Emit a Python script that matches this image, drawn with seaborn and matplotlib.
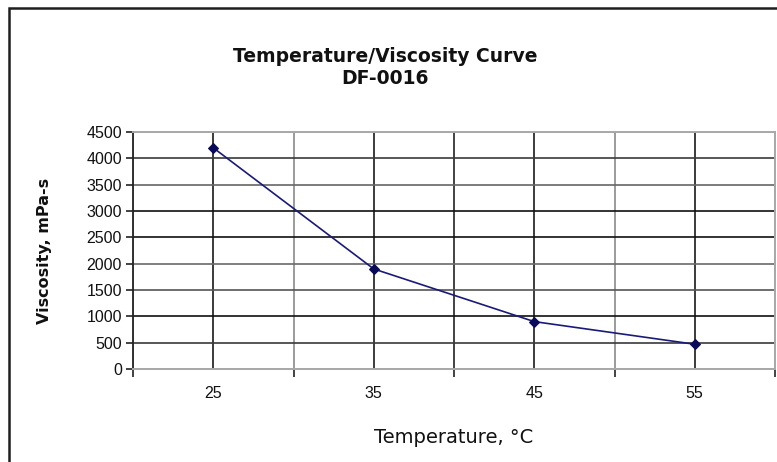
import numpy as np
import pandas as pd
import matplotlib
matplotlib.use("Agg")
import matplotlib.pyplot as plt
import seaborn as sns
from matplotlib.patches import Rectangle

# --------------------------------------------------
# Data
# --------------------------------------------------

temperature = [25, 35, 45, 55]
viscosity = [4200, 1900, 900, 470]

title_lines = ["Temperature/Viscosity Curve", "DF-0016"]
x_label = "Temperature, \u00b0C"
y_label = "Viscosity, mPa-s"

y_ticks = list(range(0, 5000, 500))
x_major = [20, 30, 40, 50, 60]
x_labeled = [25, 35, 45, 55]

df = pd.DataFrame({"Temperature": temperature, "Viscosity": viscosity})

# --------------------------------------------------
# Style
# --------------------------------------------------

sns.set_style("white")
plt.rcParams["font.family"] = ["Liberation Sans", "DejaVu Sans"]
plt.rcParams["text.color"] = "#111111"
plt.rcParams["axes.labelcolor"] = "#111111"
plt.rcParams["xtick.color"] = "#111111"
plt.rcParams["ytick.color"] = "#111111"

fig = plt.figure(figsize=(7.77, 4.62), dpi=100)
ax = fig.add_axes([133 / 777, 1 - 369 / 462, 642 / 777, 237 / 462])

# outer chart border
fig.patches.append(Rectangle((8.5 / 777, -0.1), 1.2, 1.1 - 8.5 / 462,
                             transform=fig.transFigure, fill=False,
                             edgecolor="#1e1e1e", linewidth=1.8))

sns.lineplot(data=df, x="Temperature", y="Viscosity", ax=ax,
             color="#1a1a7a", linewidth=1.2, marker="D", markersize=5,
             markeredgecolor="#0a0a5a", markerfacecolor="#0a0a5a", zorder=5)

ax.set_xlim(20, 60)
ax.set_ylim(0, 4500)

ax.set_yticks(y_ticks)
ax.set_yticklabels([str(v) for v in y_ticks], fontsize=11.5)
ax.set_xticks(x_major)
ax.set_xticklabels([""] * len(x_major))
ax.set_xticks(x_labeled, minor=True)
ax.set_xticklabels([str(v) for v in x_labeled], minor=True, fontsize=11.5)

ax.tick_params(axis="y", direction="out", length=5, width=1.2, color="#222222",
               left=True, pad=3)
ax.tick_params(axis="x", which="major", direction="out", length=6, width=1.2,
               color="#222222", bottom=True)
ax.tick_params(axis="x", which="minor", length=0, pad=12)

ax.grid(True, which="both", color="#2a2a2a", linewidth=1.2)
ax.set_axisbelow(True)

# scanned look: some grid lines come out lighter than others
y_grid_colors = ["#b0b0b0", "#3a3a3a", "#111111", "#555555", "#6a6a6a",
                 "#111111", "#111111", "#666666", "#3a3a3a", "#b0b0b0"]
for tick, c in zip(ax.yaxis.get_major_ticks(), y_grid_colors):
    tick.gridline.set_color(c)
x_grid_colors = ["#b0b0b0", "#8a8a8a", "#222222", "#8a8a8a", "#b0b0b0"]
for tick, c in zip(ax.xaxis.get_major_ticks(), x_grid_colors):
    tick.gridline.set_color(c)
for tick in ax.xaxis.get_minor_ticks():
    tick.gridline.set_color("#1a1a1a")

for side in ["top", "right", "bottom"]:
    ax.spines[side].set_color("#a8a8a8")
    ax.spines[side].set_linewidth(1.4)
ax.spines["left"].set_color("#222222")
ax.spines["left"].set_linewidth(1.3)

ax.set_xlabel(x_label, fontsize=14, family=["DejaVu Sans"])
ax.xaxis.set_label_coords(0.5, (369 - 428) / 237)
ax.xaxis.label.set_va("top")
ax.set_ylabel(y_label, fontsize=11.5, fontweight="bold", family=["DejaVu Sans"])
ax.yaxis.set_label_coords((52 - 133) / 642, 0.5)

fig.text(385 / 777, 1 - 57 / 462, title_lines[0], ha="center", va="center",
         fontsize=13.5, fontweight="bold", family=["DejaVu Sans"])
fig.text(385 / 777, 1 - 79 / 462, title_lines[1], ha="center", va="center",
         fontsize=13.5, fontweight="bold", family=["DejaVu Sans"])

fig.savefig("out.png", dpi=100, facecolor="white")
